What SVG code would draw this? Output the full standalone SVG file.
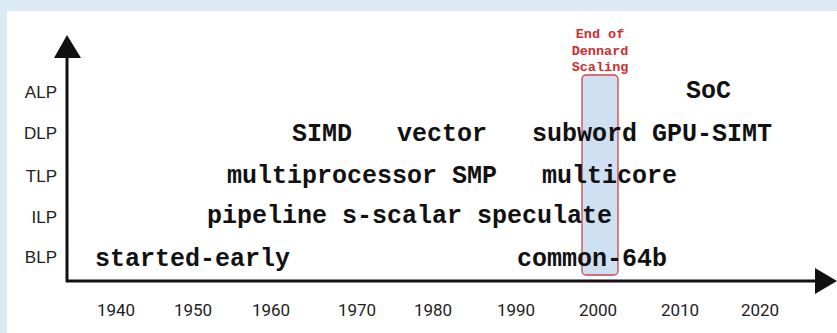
<svg xmlns="http://www.w3.org/2000/svg" width="837" height="333" viewBox="0 0 837 333">
<style>
.row{font-family:"Liberation Sans",Arial,sans-serif;font-size:17px;fill:#222;text-anchor:end}
.yr{font-family:Roboto,"Liberation Sans",sans-serif;font-size:17px;fill:#222;text-anchor:middle}
.lbl{font-family:"Liberation Mono","Courier New",monospace;font-weight:bold;font-size:25px;fill:#111}
.red{font-family:"Liberation Mono","Courier New",monospace;font-weight:bold;font-size:13.5px;fill:#d02c2c;text-anchor:middle}
.ax{stroke:#111;stroke-width:3;fill:none}
</style>
<rect x="0" y="0" width="837" height="333" fill="#dbeaf3"/>
<rect x="7" y="11" width="830" height="322" fill="#ffffff"/>
<g id="dennard">
<rect x="582" y="75" width="36" height="200" rx="4" fill="#c5dbef" fill-opacity="0.85" stroke="#d0454a" stroke-width="1.3"/>
<text class="red" x="600" y="38">End of</text>
<text class="red" x="600" y="55">Dennard</text>
<text class="red" x="600" y="71">Scaling</text>
</g>
<g id="axes">
<line class="ax" x1="67" y1="55" x2="67" y2="282"/>
<line class="ax" x1="66" y1="281" x2="816" y2="281"/>
<polygon points="67,35 54,58 81,58" fill="#111"/>
<polygon points="837,281 815,268 815,294" fill="#111"/>
</g>
<g id="rows">
<text class="row" x="57" y="98">ALP</text>
<text class="row" x="57" y="139">DLP</text>
<text class="row" x="57" y="182">TLP</text>
<text class="row" x="57" y="223">ILP</text>
<text class="row" x="57" y="263">BLP</text>
</g>
<g id="years">
<text class="yr" x="116" y="316">1940</text>
<text class="yr" x="193" y="316">1950</text>
<text class="yr" x="271" y="316">1960</text>
<text class="yr" x="357" y="316">1970</text>
<text class="yr" x="433" y="316">1980</text>
<text class="yr" x="516" y="316">1990</text>
<text class="yr" x="598" y="316">2000</text>
<text class="yr" x="680" y="316">2010</text>
<text class="yr" x="760" y="316">2020</text>
</g>
<g id="labels">
<text class="lbl" x="686" y="98">SoC</text>
<text class="lbl" x="292" y="141">SIMD</text>
<text class="lbl" x="397" y="141">vector</text>
<text class="lbl" x="532" y="141">subword</text>
<text class="lbl" x="652" y="141">GPU-SIMT</text>
<text class="lbl" x="227" y="183">multiprocessor SMP</text>
<text class="lbl" x="542" y="183">multicore</text>
<text class="lbl" x="207" y="223">pipeline s-scalar speculate</text>
<text class="lbl" x="95" y="266">started-early</text>
<text class="lbl" x="517" y="266">common-64b</text>
</g>
</svg>
